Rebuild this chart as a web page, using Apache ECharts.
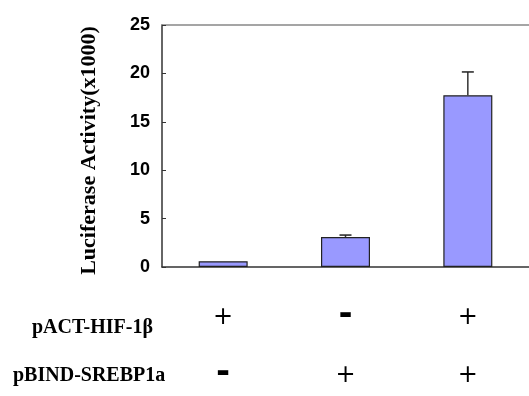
<!DOCTYPE html>
<html>
<head>
<meta charset="utf-8">
<script src="https://cdn.jsdelivr.net/npm/echarts@6/dist/echarts.min.js"></script>
<style>
html,body{margin:0;padding:0;background:#fff;}
#chart{width:529px;height:396px;}
</style>
</head>
<body>
<div id="chart"></div>
<script>
// ---- data ----
const categories = ['A', 'B', 'C'];
const pACT = ['+', '-', '+'];
const pBIND = ['-', '+', '+'];
const values = [0.6, 3.1, 17.75];
const errors = [0, 0.2, 2.4];
const yMin = 0, yMax = 25, yInterval = 5;
const rowNames = ['pACT-HIF-1\u03b2', 'pBIND-SREBP1a'];

const chart = echarts.init(document.getElementById('chart'), null, {renderer: 'canvas'});

function sym(s) { return s === '+' ? '{p|+}' : '{m|-}'; }

const option = {
  animation: false,
  backgroundColor: '#ffffff',
  grid: {left: 162, top: 25, right: -8, bottom: 118, containLabel: false},
  xAxis: [{
    type: 'category',
    data: categories,
    position: 'bottom',
    axisLine: {show: true, lineStyle: {color: '#333333', width: 1.5}},
    axisTick: {show: false},
    axisLabel: {
      margin: 22,
      interval: 0,
      formatter: function (v, i) { return sym(pACT[i]) + '\n' + sym(pBIND[i]); },
      rich: {
        p: {fontFamily: 'DejaVu Sans', fontSize: 24, color: '#000', lineHeight: 58},
        m: {fontFamily: 'DejaVu Sans', fontWeight: 'bold', fontSize: 34, color: '#000', lineHeight: 58, padding: [0, 0, 6, 0]}
      }
    }
  }, {
    type: 'category',
    data: categories,
    position: 'top',
    axisLine: {show: true, lineStyle: {color: '#888888', width: 1.5}},
    axisTick: {show: false},
    axisLabel: {show: false}
  }],
  yAxis: {
    type: 'value',
    min: yMin, max: yMax, interval: yInterval,
    name: 'Luciferase Activity(x1000)',
    nameLocation: 'middle',
    nameRotate: 90,
    nameGap: 62,
    nameTextStyle: {fontFamily: 'Liberation Serif', fontWeight: 'bold', fontSize: 22, color: '#000', padding: [0, 9, 0, 0]},
    axisLine: {show: true, lineStyle: {color: '#333333', width: 1.5}},
    axisTick: {show: true, inside: true, length: 4, lineStyle: {color: '#333333'}},
    axisLabel: {margin: 12, fontFamily: 'Liberation Sans', fontWeight: 'bold', fontSize: 18, color: '#000'},
    splitLine: {show: false}
  },
  graphic: [
    {type: 'text', left: 32, top: 318, style: {text: rowNames[0], font: 'bold 20px "Liberation Serif"', fill: '#000'}},
    {type: 'text', left: 13, top: 366, style: {text: rowNames[1], font: 'bold 20px "Liberation Serif"', fill: '#000'}}
  ],
  series: [{
    type: 'bar',
    data: values,
    barWidth: 49,
    itemStyle: {color: '#9999ff', borderColor: '#222222', borderWidth: 1.2}
  }, {
    type: 'custom',
    data: values.map((v, i) => [i, v, errors[i]]),
    z: 10,
    renderItem: function (params, api) {
      const i = api.value(0), v = api.value(1), e = api.value(2);
      if (!e) return null;
      const p0 = api.coord([i, v]);
      const p1 = api.coord([i, v + e]);
      const hw = 6;
      return {
        type: 'group',
        children: [
          {type: 'line', shape: {x1: p0[0], y1: p0[1], x2: p1[0], y2: p1[1]}, style: {stroke: '#333333', lineWidth: 1.5}},
          {type: 'line', shape: {x1: p1[0] - hw, y1: p1[1], x2: p1[0] + hw, y2: p1[1]}, style: {stroke: '#222222', lineWidth: 1.5}}
        ]
      };
    }
  }]
};
chart.setOption(option);
</script>
</body>
</html>
